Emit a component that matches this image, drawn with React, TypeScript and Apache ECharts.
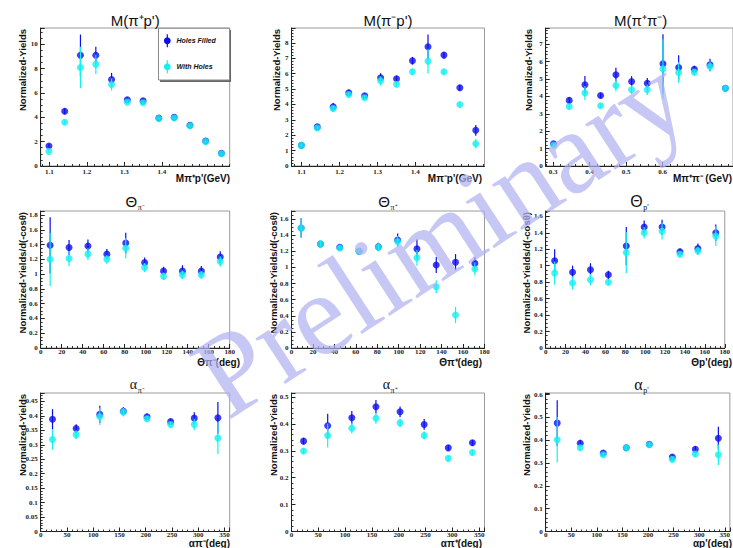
import React, { useEffect, useRef } from "react";
import * as echarts from "echarts";

// ---------------- bin centres (categories) ----------------
const massPiPBins = [1.099, 1.141, 1.183, 1.224, 1.266, 1.308, 1.35, 1.392, 1.433, 1.475, 1.517, 1.559];
const massPiPiBins = [0.301, 0.344, 0.387, 0.43, 0.472, 0.515, 0.558, 0.601, 0.644, 0.687, 0.73, 0.772];
const thetaBins = [9, 27, 45, 63, 81, 99, 117, 135, 153, 171];
const alphaBins = [22.5, 67.5, 112.5, 157.5, 202.5, 247.5, 292.5, 337.5];

// ---------------- tick labels ----------------
const massPiPTicks = [1.1, 1.2, 1.3, 1.4, 1.5];
const massPiPiTicks = [0.3, 0.4, 0.5, 0.6, 0.7];

// ---------------- series values ----------------
// M(pi+ p')
const mPipP_filled = [1.65, 4.5, 9.1, 9.1, 7.1, 5.45, 5.35, 3.95, 4.0, 3.35, 2.05, 1.05];
const mPipP_filledErr = [0.15, 0.25, 1.7, 0.7, 0.55, 0.2, 0.2, 0.1, 0.1, 0.1, 0.1, 0.08];
const mPipP_holes = [1.2, 3.6, 8.1, 8.35, 6.7, 5.25, 5.2, 3.9, 3.95, 3.3, 2.0, 1.0];
const mPipP_holesErr = [0.12, 0.15, 1.7, 0.8, 0.5, 0.15, 0.15, 0.1, 0.1, 0.12, 0.12, 0.08];
// M(pi- p')
const mPimP_filled = [1.34, 2.54, 3.84, 4.75, 4.56, 5.73, 5.66, 6.83, 7.74, 7.2, 5.08, 2.32];
const mPimP_filledErr = [0.1, 0.12, 0.25, 0.2, 0.15, 0.3, 0.2, 0.25, 0.8, 0.2, 0.2, 0.35];
const mPimP_holes = [1.34, 2.47, 3.73, 4.64, 4.43, 5.53, 5.31, 6.12, 6.81, 6.12, 3.99, 1.45];
const mPimP_holesErr = [0.1, 0.1, 0.2, 0.15, 0.15, 0.3, 0.2, 0.2, 0.8, 0.15, 0.15, 0.3];
// M(pi+ pi-)
const mPiPi_filled = [1.28, 3.77, 4.67, 4.05, 5.24, 4.86, 4.76, 5.87, 5.66, 5.56, 5.81, 4.47];
const mPiPi_filledErr = [0.1, 0.2, 0.5, 0.15, 0.4, 0.3, 0.3, 1.7, 0.7, 0.2, 0.35, 0.1];
const mPiPi_holes = [1.19, 3.42, 4.19, 3.46, 4.63, 4.38, 4.38, 5.58, 5.37, 5.39, 5.72, 4.47];
const mPiPi_holesErr = [0.1, 0.15, 0.4, 0.1, 0.35, 0.25, 0.3, 1.7, 0.6, 0.2, 0.3, 0.1];
// Theta pi-
const thPim_filled = [1.39, 1.36, 1.38, 1.27, 1.42, 1.155, 1.04, 1.04, 1.04, 1.23];
const thPim_filledErr = [0.38, 0.1, 0.09, 0.07, 0.14, 0.07, 0.06, 0.08, 0.07, 0.08];
const thPim_holes = [1.2, 1.21, 1.27, 1.2, 1.35, 1.09, 0.97, 0.99, 0.99, 1.17];
const thPim_holesErr = [0.36, 0.1, 0.08, 0.06, 0.14, 0.06, 0.05, 0.06, 0.05, 0.07];
// Theta pi+
const thPip_filled = [1.49, 1.29, 1.25, 1.2, 1.255, 1.34, 1.23, 1.03, 1.065, 1.05];
const thPip_filledErr = [0.12, 0.05, 0.04, 0.04, 0.05, 0.08, 0.12, 0.1, 0.1, 0.08];
const thPip_holes = [1.49, 1.29, 1.24, 1.2, 1.25, 1.32, 1.12, 0.76, 0.41, 0.98];
const thPip_holesErr = [0.12, 0.05, 0.04, 0.04, 0.05, 0.07, 0.1, 0.08, 0.1, 0.08];
// Theta p'
const thP_filled = [1.06, 0.92, 0.95, 0.89, 1.24, 1.47, 1.47, 1.17, 1.21, 1.4];
const thP_filledErr = [0.14, 0.08, 0.08, 0.05, 0.23, 0.08, 0.09, 0.04, 0.06, 0.1];
const thP_holes = [0.91, 0.79, 0.83, 0.8, 1.16, 1.4, 1.42, 1.14, 1.18, 1.36];
const thP_holesErr = [0.14, 0.08, 0.07, 0.04, 0.25, 0.07, 0.1, 0.04, 0.05, 0.12];
// alpha pi-
const alPim_filled = [0.388, 0.356, 0.405, 0.416, 0.397, 0.38, 0.392, 0.393];
const alPim_filledErr = [0.035, 0.015, 0.03, 0.015, 0.01, 0.01, 0.02, 0.055];
const alPim_holes = [0.318, 0.335, 0.398, 0.413, 0.39, 0.37, 0.37, 0.323];
const alPim_holesErr = [0.035, 0.015, 0.03, 0.015, 0.01, 0.01, 0.02, 0.055];
// alpha pi+
const alPip_filled = [0.336, 0.393, 0.423, 0.464, 0.445, 0.398, 0.311, 0.33];
const alPip_filledErr = [0.012, 0.045, 0.025, 0.025, 0.02, 0.02, 0.01, 0.01];
const alPip_holes = [0.299, 0.357, 0.384, 0.421, 0.404, 0.357, 0.272, 0.294];
const alPip_holesErr = [0.01, 0.045, 0.02, 0.02, 0.015, 0.015, 0.01, 0.01];
// alpha p'
const alP_filled = [0.475, 0.387, 0.344, 0.367, 0.382, 0.326, 0.36, 0.409];
const alP_filledErr = [0.1, 0.015, 0.01, 0.01, 0.01, 0.01, 0.015, 0.05];
const alP_holes = [0.402, 0.367, 0.336, 0.367, 0.38, 0.316, 0.34, 0.336];
const alP_holesErr = [0.1, 0.012, 0.01, 0.01, 0.01, 0.01, 0.012, 0.045];

const legendNames = ["Holes Filled", "With Holes"];

const BLUE = "#0c0cf0";
const CYAN = "#14f0f0";
const SANS = "'Liberation Sans', Arial, sans-serif";
const SERIF = "'Liberation Serif', 'Times New Roman', serif";

const cols = [
  { left: 40.7, width: 189 },
  { left: 291.5, width: 193 },
  { left: 545.7, width: 190 },
];
const rows = [
  { top: 28, height: 138, labelMargin: 2 },
  { top: 211, height: 137, labelMargin: 0 },
  { top: 393, height: 138.5, labelMargin: 0 },
];

type Panel = {
  row: number; col: number;
  x: number[]; f: number[]; fe: number[]; h: number[]; he: number[];
  xMin: number; xMax: number; yMax: number;
  yInt: number; yMinor: number;
  xInt?: number; xMinorSplit?: number; xShowMax?: boolean;
  xTicks?: number[]; xMinorStep?: number;
  title: string; sub?: string; titleSize: number; titleFont?: string;
  yTitle: string; yTitleX: number;
  xTitle: string; xTitleRight: number; xTitleY: number;
};

const yT1 = "Normalized-Yields";
const yT2 = "Normalized-Yields/d(-cosθ)";

const panels: Panel[] = [
  { row: 0, col: 0, x: massPiPBins, f: mPipP_filled, fe: mPipP_filledErr, h: mPipP_holes, he: mPipP_holesErr,
    xMin: 1.077, xMax: 1.581, yMax: 11.34, yInt: 2, yMinor: 4, xTicks: massPiPTicks, xMinorStep: 0.02,
    title: "M(π⁺p')", titleSize: 15, yTitle: yT1, yTitleX: 22.7, xTitle: "Mπ⁺p'(GeV)", xTitleRight: 230, xTitleY: 178 },
  { row: 0, col: 1, x: massPiPBins, f: mPimP_filled, fe: mPimP_filledErr, h: mPimP_holes, he: mPimP_holesErr,
    xMin: 1.073, xMax: 1.582, yMax: 8.96, yInt: 1, yMinor: 5, xTicks: massPiPTicks, xMinorStep: 0.02,
    title: "M(π⁻p')", titleSize: 15, yTitle: yT1, yTitleX: 276.7, xTitle: "Mπ⁻p'(GeV)", xTitleRight: 482, xTitleY: 178 },
  { row: 0, col: 2, x: massPiPiBins, f: mPiPi_filled, fe: mPiPi_filledErr, h: mPiPi_holes, he: mPiPi_holesErr,
    xMin: 0.2795, xMax: 0.793, yMax: 7.93, yInt: 1, yMinor: 5, xTicks: massPiPiTicks, xMinorStep: 0.02,
    title: "M(π⁺π⁻)", titleSize: 15, yTitle: yT1, yTitleX: 528, xTitle: "Mπ⁺π⁻ (GeV)", xTitleRight: 732, xTitleY: 178 },
  { row: 1, col: 0, x: thetaBins, f: thPim_filled, fe: thPim_filledErr, h: thPim_holes, he: thPim_holesErr,
    xMin: 0, xMax: 180, yMax: 1.854, yInt: 0.2, yMinor: 4, xInt: 20, xMinorSplit: 4, xShowMax: true,
    title: "Θ", sub: "π⁻", titleSize: 15, yTitle: yT2, yTitleX: 22.7, xTitle: "Θπ⁻(deg)", xTitleRight: 240, xTitleY: 362 },
  { row: 1, col: 1, x: thetaBins, f: thPip_filled, fe: thPip_filledErr, h: thPip_holes, he: thPip_holesErr,
    xMin: 0, xMax: 180, yMax: 1.7, yInt: 0.2, yMinor: 4, xInt: 20, xMinorSplit: 4, xShowMax: true,
    title: "Θ", sub: "π⁺", titleSize: 15, yTitle: yT2, yTitleX: 273.3, xTitle: "Θπ⁺(deg)", xTitleRight: 482, xTitleY: 362 },
  { row: 1, col: 2, x: thetaBins, f: thP_filled, fe: thP_filledErr, h: thP_holes, he: thP_holesErr,
    xMin: 0, xMax: 180, yMax: 1.665, yInt: 0.2, yMinor: 4, xInt: 20, xMinorSplit: 4, xShowMax: true,
    title: "Θ", sub: "p'", titleSize: 16, yTitle: yT2, yTitleX: 526.3, xTitle: "Θp'(deg)", xTitleRight: 732, xTitleY: 362 },
  { row: 2, col: 0, x: alphaBins, f: alPim_filled, fe: alPim_filledErr, h: alPim_holes, he: alPim_holesErr,
    xMin: 0, xMax: 360, yMax: 0.479, yInt: 0.05, yMinor: 5, xInt: 50, xMinorSplit: 5, xShowMax: false,
    title: "α", sub: "π⁻", titleSize: 14, titleFont: SERIF, yTitle: yT1, yTitleX: 22.7, xTitle: "απ⁻(deg)", xTitleRight: 230, xTitleY: 543.5 },
  { row: 2, col: 1, x: alphaBins, f: alPip_filled, fe: alPip_filledErr, h: alPip_holes, he: alPip_holesErr,
    xMin: 0, xMax: 360, yMax: 0.515, yInt: 0.1, yMinor: 5, xInt: 50, xMinorSplit: 5, xShowMax: false,
    title: "α", sub: "π⁺", titleSize: 14, titleFont: SERIF, yTitle: yT1, yTitleX: 273.3, xTitle: "απ⁺(deg)", xTitleRight: 482, xTitleY: 543.5 },
  { row: 2, col: 2, x: alphaBins, f: alP_filled, fe: alP_filledErr, h: alP_holes, he: alP_holesErr,
    xMin: 0, xMax: 360, yMax: 0.607, yInt: 0.1, yMinor: 5, xInt: 50, xMinorSplit: 5, xShowMax: false,
    title: "α", sub: "p'", titleSize: 16, titleFont: SERIF, yTitle: yT1, yTitleX: 526.3, xTitle: "αp'(deg)", xTitleRight: 732, xTitleY: 543.5 },
];

const titleY = [20, 201, 384];

function errRender(color: string) {
  return (_params: any, api: any) => {
    const x = api.value(0);
    const y = api.value(1);
    const e = api.value(2);
    const a = api.coord([x, y - e]);
    const b = api.coord([x, y + e]);
    return {
      type: "line",
      shape: { x1: a[0], y1: a[1], x2: b[0], y2: b[1] },
      style: { stroke: color, lineWidth: 1.2 },
    };
  };
}

function txt(text: string, x: number, y: number, opts: any = {}) {
  const { rotation, z, ...style } = opts;
  return {
    type: "text",
    x, y,
    rotation: rotation || 0,
    z: z ?? 20,
    silent: true,
    style: {
      text,
      fill: "#111",
      fontFamily: SANS,
      fontSize: 10,
      align: style.align || "left",
      textAlign: style.align || "left",
      verticalAlign: style.verticalAlign || "middle",
      textVerticalAlign: style.verticalAlign || "middle",
      ...style,
    },
  };
}

const tickLabelStyle = {
  fontSize: 7,
  fontFamily: SERIF,
  fontWeight: "bold",
  color: "#222",
};

function buildOption() {
  const grids: any[] = [];
  const xAxes: any[] = [];
  const yAxes: any[] = [];
  const extraX: any[] = [];
  const series: any[] = [];
  const graphics: any[] = [];

  panels.forEach((p, i) => {
    const c = cols[p.col];
    const r = rows[p.row];
    grids.push({
      left: c.left, top: r.top, width: c.width, height: r.height,
      show: true, borderColor: "#9a9a9a", borderWidth: 1, backgroundColor: "transparent",
      containLabel: false,
    });
    const axisLine = { show: true, onZero: false, lineStyle: { color: "#222", width: 1 } };
    const xa: any = {
      type: "value", gridIndex: i, min: p.xMin, max: p.xMax, position: "bottom",
      axisLine,
      splitLine: { show: false }, minorSplitLine: { show: false },
      axisTick: { show: true, inside: true, length: 4, lineStyle: { color: "#222" } },
      axisLabel: { ...tickLabelStyle, margin: r.labelMargin, showMinLabel: true, showMaxLabel: !!p.xShowMax },
    };
    if (p.xTicks) {
      xa.axisTick.customValues = p.xTicks;
      xa.axisLabel.customValues = p.xTicks;
      const minors: number[] = [];
      const step = p.xMinorStep as number;
      for (let v = Math.ceil(p.xMin / step) * step; v <= p.xMax + 1e-9; v += step) {
        minors.push(Math.round(v * 1000) / 1000);
      }
      extraX.push({
        type: "value", gridIndex: i, min: p.xMin, max: p.xMax, position: "bottom", offset: 0,
        axisLine: { show: false }, splitLine: { show: false },
        axisLabel: { show: false },
        axisTick: { show: true, inside: true, length: 2, customValues: minors, lineStyle: { color: "#333" } },
      });
    } else {
      xa.interval = p.xInt;
      xa.minorTick = { show: true, splitNumber: p.xMinorSplit, length: 2, lineStyle: { color: "#333" } };
    }
    xAxes.push(xa);
    yAxes.push({
      type: "value", gridIndex: i, min: 0, max: p.yMax, interval: p.yInt,
      axisLine,
      splitLine: { show: false }, minorSplitLine: { show: false },
      axisTick: { show: true, inside: true, length: 4, lineStyle: { color: "#222" } },
      minorTick: { show: true, splitNumber: p.yMinor, length: 2, lineStyle: { color: "#333" } },
      axisLabel: { ...tickLabelStyle, margin: 3, showMaxLabel: false },
    });

    series.push({
      type: "custom", name: legendNames[0] + " err", xAxisIndex: i, yAxisIndex: i, silent: true, z: 2,
      data: p.x.map((v, k) => [v, p.f[k], p.fe[k]]), renderItem: errRender(BLUE),
    });
    series.push({
      type: "scatter", name: legendNames[0], xAxisIndex: i, yAxisIndex: i, z: 3,
      symbol: "circle", symbolSize: 7, itemStyle: { color: BLUE },
      data: p.x.map((v, k) => [v, p.f[k]]),
    });
    series.push({
      type: "custom", name: legendNames[1] + " err", xAxisIndex: i, yAxisIndex: i, silent: true, z: 4,
      data: p.x.map((v, k) => [v, p.h[k], p.he[k]]), renderItem: errRender(CYAN),
    });
    series.push({
      type: "scatter", name: legendNames[1], xAxisIndex: i, yAxisIndex: i, z: 5,
      symbol: "circle", symbolSize: 7, itemStyle: { color: CYAN },
      data: p.x.map((v, k) => [v, p.h[k]]),
    });

    // titles
    const cx = c.left + c.width / 2;
    const ty = titleY[p.row];
    if (!p.sub) {
      graphics.push(txt(p.title, cx, ty, { align: "center", fontSize: p.titleSize }));
    } else {
      graphics.push(txt(p.title, cx + 2, ty, { align: "right", fontSize: p.titleSize, fontFamily: p.titleFont || SANS }));
      graphics.push(txt(p.sub, cx + 2.5, ty + 6, { align: "left", fontSize: 8, fontFamily: SERIF }));
    }
    // y title
    graphics.push(txt(p.yTitle, p.yTitleX, r.top + 1, {
      align: "right", fontSize: 9.5, fontWeight: "bold", rotation: Math.PI / 2,
    }));
    // x title
    graphics.push(txt(p.xTitle, p.xTitleRight, p.xTitleY, {
      align: "right", fontSize: 10, fontWeight: "bold",
    }));
  });

  // legend box in first panel
  graphics.push({
    type: "rect", z: 9, silent: true,
    shape: { x: 160, y: 30, width: 71, height: 52 },
    style: { fill: "#666" },
  });
  graphics.push({
    type: "rect", z: 10, silent: true,
    shape: { x: 158.5, y: 28.3, width: 71, height: 51.7 },
    style: { fill: "#fff", stroke: "#8a8a8a", lineWidth: 1 },
  });
  const legendItems = [
    { name: legendNames[0], color: BLUE, y: 40.7 },
    { name: legendNames[1], color: CYAN, y: 66.7 },
  ];
  legendItems.forEach((it) => {
    graphics.push({
      type: "line", z: 11, silent: true,
      shape: { x1: 167.3, y1: it.y - 6.5, x2: 167.3, y2: it.y + 6.5 },
      style: { stroke: it.color, lineWidth: 1.2 },
    });
    graphics.push({
      type: "circle", z: 12, silent: true,
      shape: { cx: 167.3, cy: it.y, r: 3.4 },
      style: { fill: it.color },
    });
    graphics.push(txt(it.name, 176.5, it.y, {
      align: "left", fontSize: 7, fontStyle: "italic", fontWeight: "bold", z: 12,
    }));
  });

  // watermark
  graphics.push(txt("Preliminary", 440, 236, {
    align: "center", verticalAlign: "middle", fontFamily: SERIF, fontSize: 118,
    fill: "rgba(178,178,242,0.72)", rotation: (33 * Math.PI) / 180, z: 100,
  }));

  return {
    animation: false,
    backgroundColor: "#ffffff",
    grid: grids,
    xAxis: [...xAxes, ...extraX],
    yAxis: yAxes,
    series,
    graphic: { elements: graphics },
  };
}

export default function App() {
  const ref = useRef<HTMLDivElement | null>(null);
  useEffect(() => {
    if (!ref.current) return;
    const chart = echarts.init(ref.current, undefined, { renderer: "svg" });
    chart.setOption(buildOption() as any);
    return () => chart.dispose();
  }, []);
  return (
    <div
      ref={ref}
      style={{ position: "fixed", left: 0, top: 0, width: 733, height: 548, background: "#fff" }}
    />
  );
}
